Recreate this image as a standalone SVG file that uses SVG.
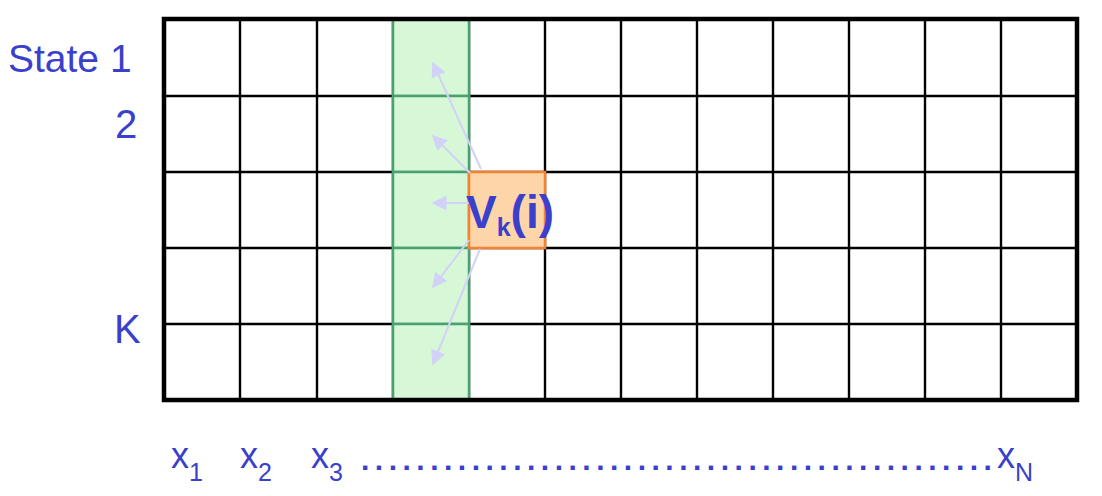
<svg xmlns="http://www.w3.org/2000/svg" width="1102" height="496" viewBox="0 0 1102 496">
<defs>
<style>
.grid{stroke:#000;stroke-width:2.4;fill:none}
.border{stroke:#000;stroke-width:4.5;fill:none}
.green{fill:#d6f8d6;stroke:#4aa070;stroke-width:2.5}
.orange{fill:#fdd5a8;stroke:#f5822e;stroke-width:2.5}
.lbl{font-family:"Liberation Sans",Arial,sans-serif;fill:#3a3fcc}
.arr{stroke:#d2d2f8;stroke-width:2;fill:none;marker-end:url(#ah)}
</style>
<marker id="ah" viewBox="0 0 10 10" refX="9" refY="5" markerWidth="7.5" markerHeight="7.5" orient="auto" markerUnits="strokeWidth">
<path d="M0,0 L10,5 L0,10 z" fill="#d2d2f8"/>
</marker>
</defs>
<rect width="1102" height="496" fill="#fff"/>
<g id="grid">
<path class="grid" d="M240,19V400M317,19V400M393,19V400M469,19V400M545,19V400M621,19V400M697,19V400M773,19V400M849,19V400M925,19V400M1001,19V400M164,96H1077M164,172H1077M164,248H1077M164,324H1077"/>
</g>
<g id="column-green">
<rect class="green" x="393" y="19" width="76" height="77"/>
<rect class="green" x="393" y="96" width="76" height="76"/>
<rect class="green" x="393" y="172" width="76" height="76"/>
<rect class="green" x="393" y="248" width="76" height="76"/>
<rect class="green" x="393" y="324" width="76" height="76"/>
</g>
<g id="cell-vk">
<rect class="orange" x="469" y="172" width="76" height="76"/>
</g>
<rect class="border" x="164" y="19" width="913" height="381"/>
<g id="connectors">
<line class="arr" x1="481" y1="169" x2="433" y2="63"/>
<line class="arr" x1="470" y1="173" x2="433" y2="136"/>
<line class="arr" x1="469" y1="203" x2="433" y2="203"/>
<line class="arr" x1="469" y1="240" x2="433" y2="287"/>
<line class="arr" x1="480" y1="249" x2="433" y2="364"/>
</g>
<g id="labels">
<text class="lbl" x="8" y="72" font-size="39">State 1</text>
<text class="lbl" x="115" y="138" font-size="40">2</text>
<text class="lbl" x="114" y="343" font-size="40">K</text>
<text class="lbl" x="466" y="228" font-size="46" font-weight="bold">V<tspan font-size="25" dy="8">k</tspan><tspan dy="-8">(i)</tspan></text>
<text class="lbl" x="171" y="468" font-size="36">x<tspan font-size="25" dy="13">1</tspan></text>
<text class="lbl" x="240" y="468" font-size="36">x<tspan font-size="25" dy="13">2</tspan></text>
<text class="lbl" x="311" y="468" font-size="36">x<tspan font-size="25" dy="13">3</tspan></text>
<text class="lbl" x="361" y="470" font-size="30" font-weight="bold" letter-spacing="5.5">..............................................</text>
<text class="lbl" x="997" y="468" font-size="36">x<tspan font-size="25" dy="13">N</tspan></text>
</g>
</svg>
